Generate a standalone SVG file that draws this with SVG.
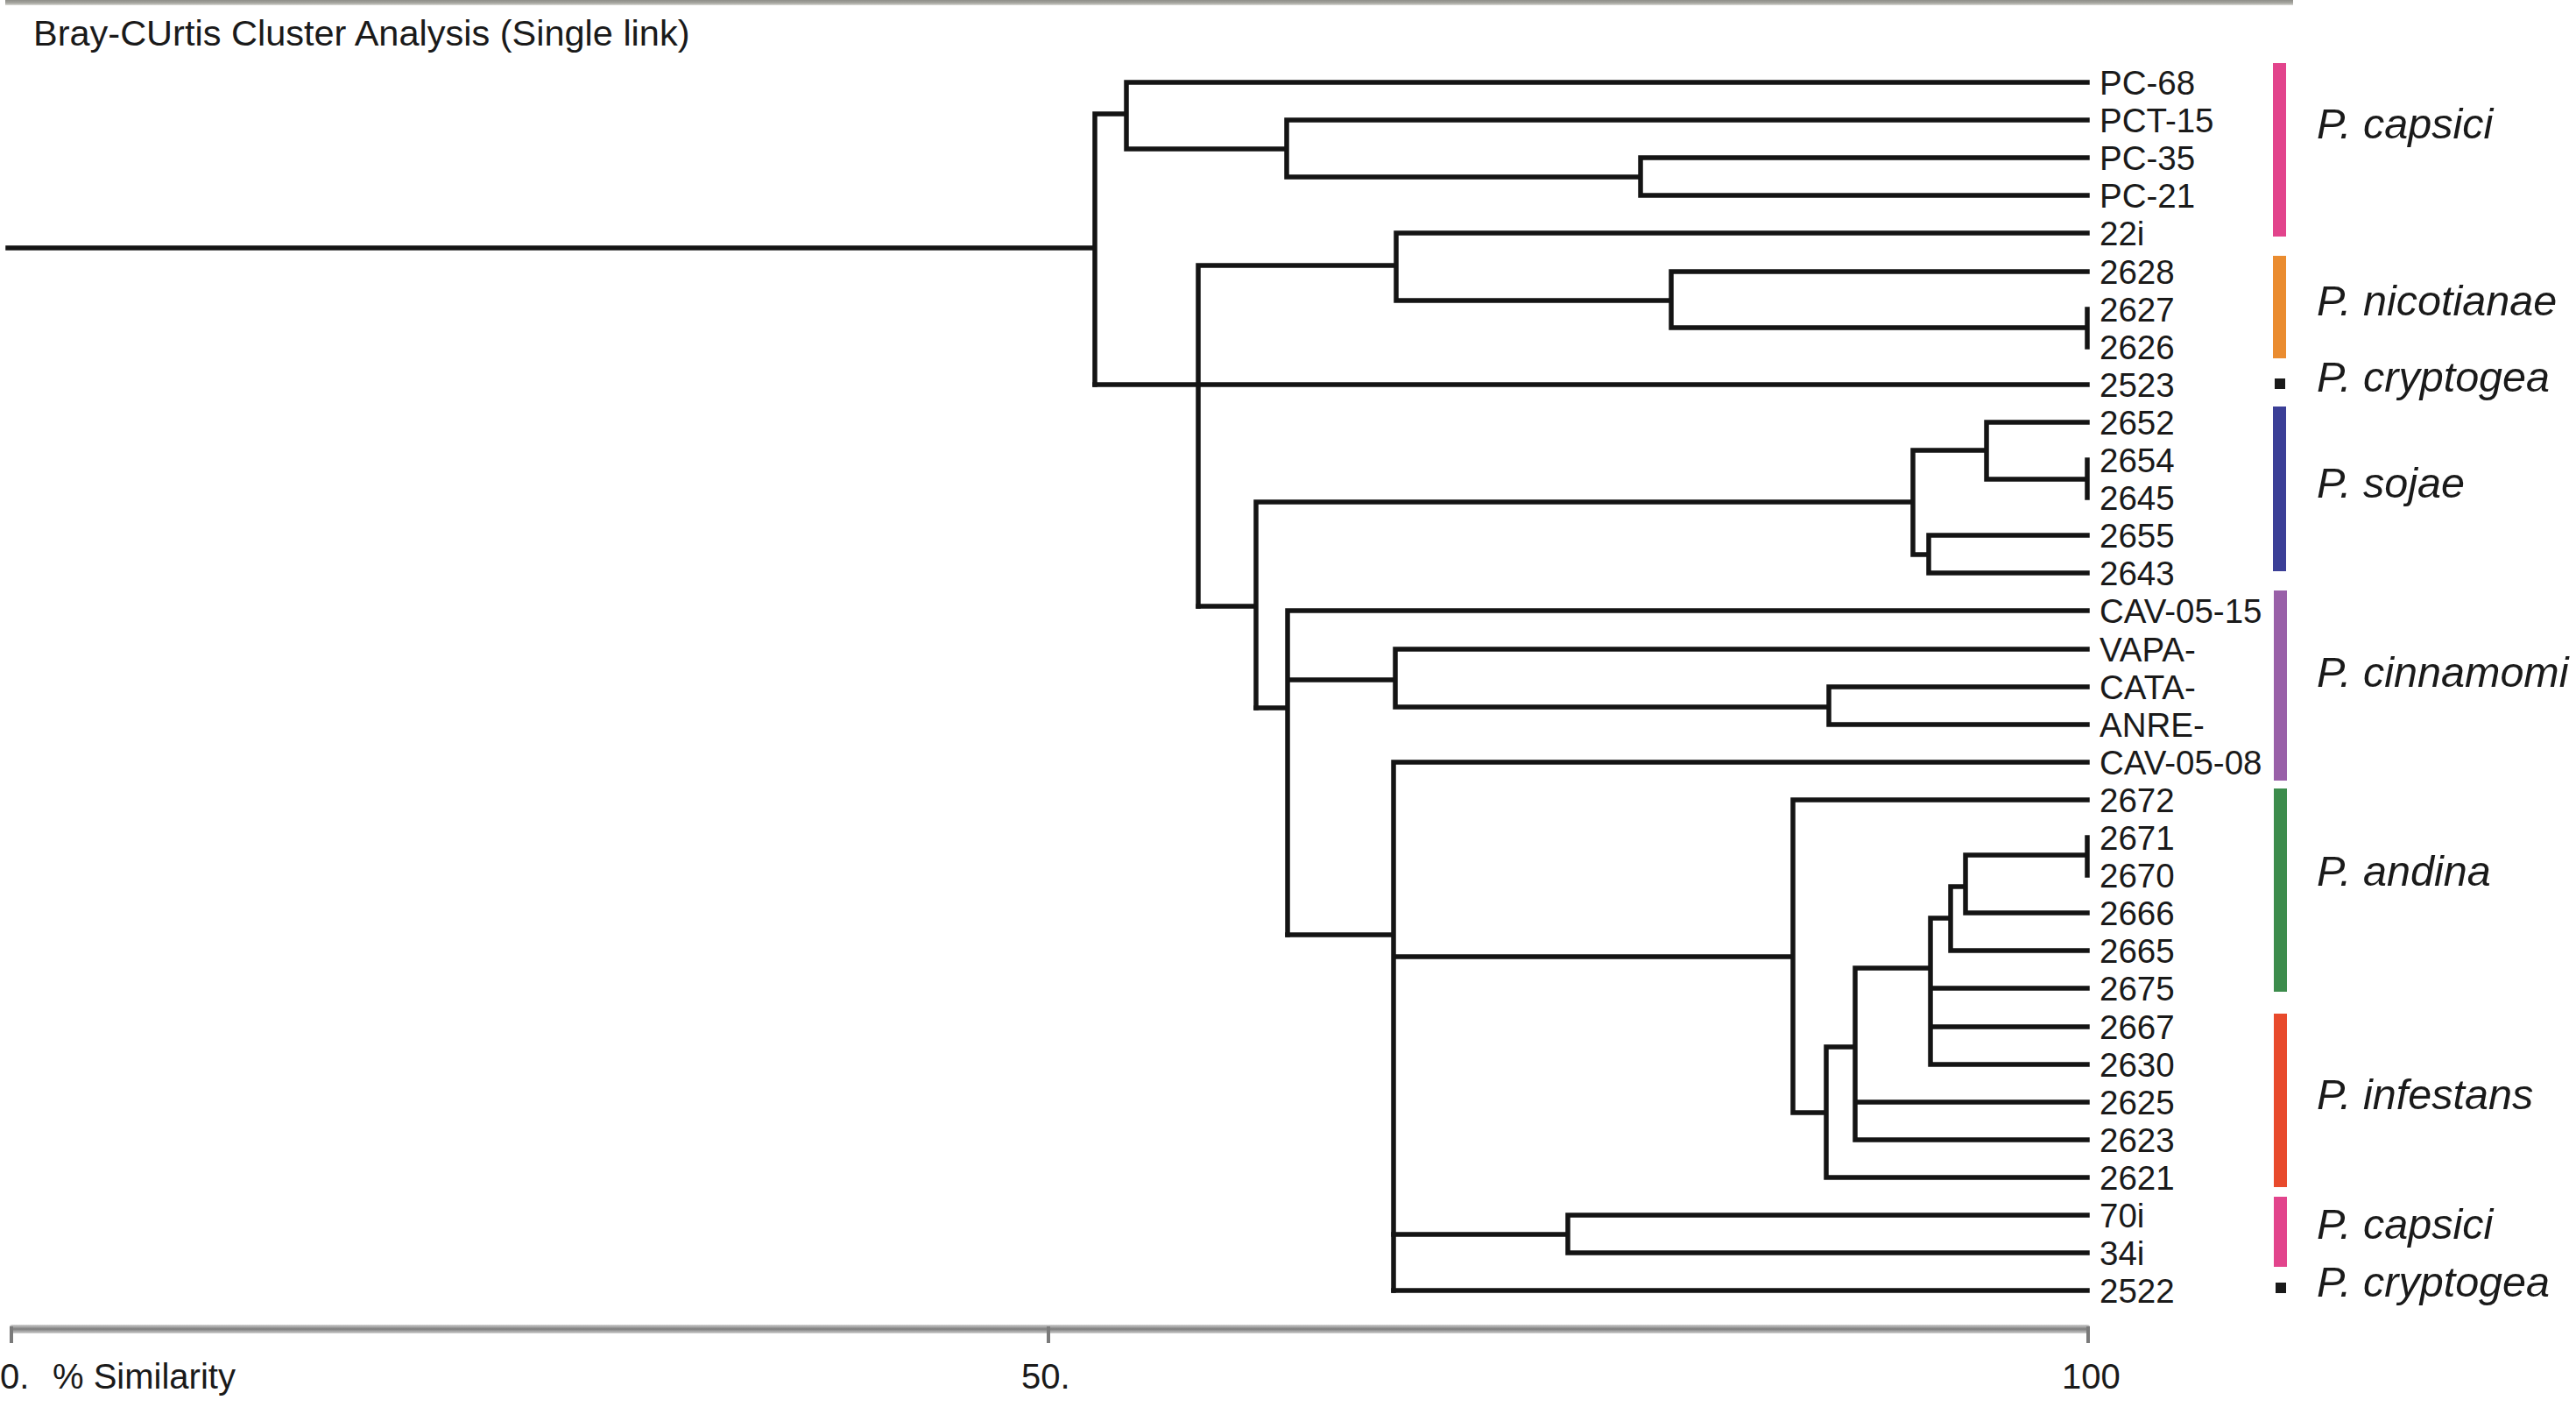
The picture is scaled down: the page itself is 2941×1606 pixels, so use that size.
<svg xmlns="http://www.w3.org/2000/svg" width="2941" height="1606" viewBox="0 0 2941 1606">
<defs>
<linearGradient id="gTop" x1="0" y1="0" x2="0" y2="1"><stop offset="0" stop-color="#8e8e88"/><stop offset="0.6" stop-color="#a9a9a3"/><stop offset="1" stop-color="#dcdcd8"/></linearGradient>
<linearGradient id="gAxis" x1="0" y1="0" x2="0" y2="1"><stop offset="0" stop-color="#d0d0d0"/><stop offset="0.5" stop-color="#7c7c7c"/><stop offset="1" stop-color="#d0d0d0"/></linearGradient>
<style>
.t{font-family:"Liberation Sans",Arial,sans-serif;fill:#1a1a1a}
.leaf{font-size:38.5px}
.sp{font-size:48.5px;font-style:italic}
.ax{font-size:40px}
.br{fill:none;stroke:#141414;stroke-width:5.5;stroke-linecap:square}
.tick{stroke:#7a7a7a;stroke-width:4}
</style>
</defs>
<rect x="0" y="0" width="2941" height="1606" fill="#ffffff"/>
<rect x="6" y="0" width="2612" height="6" fill="url(#gTop)"/>
<text class="t" x="38" y="52" font-size="41.5">Bray-CUrtis Cluster Analysis (Single link)</text>

<g id="connectors" class="br">
<path d="M9 283H1250M1250 130V439M1250 130H1286M1286 94V170M1286 94H2383M1286 170H1469M1469 137V202M1469 137H2383M1469 202H1873M1873 180V223M1873 180H2383M1873 223H2383"/>
<path d="M1250 439H2383"/>
<path d="M1368 303V692M1368 303H1594M1594 266V343M1594 266H2383M1594 343H1908M1908 310V374M1908 310H2383M1908 374H2383M2383 353V396"/>
<path d="M1368 692H1434M1434 573V808M1434 573H2184M2184 514V633M2184 514H2268M2268 482V547M2268 482H2383M2268 547H2383M2383 525V568M2184 633H2202M2202 611V654M2202 611H2383M2202 654H2383"/>
<path d="M1434 808H1470M1470 697V1067M1470 697H2383M1470 776H1593M1593 741V807M1593 741H2383M1593 807H2088M2088 784V827M2088 784H2383M2088 827H2383"/>
<path d="M1470 1067H1591M1591 870V1473M1591 870H2383M1591 1092H2047M2047 913V1270M2047 913H2383M2047 1270H2085M2085 1195V1344M2085 1344H2383M2085 1195H2118M2118 1105V1301M2118 1258H2383M2118 1301H2383M2118 1105H2204M2204 1048V1215M2204 1128H2383M2204 1172H2383M2204 1215H2383M2204 1048H2227M2227 1012V1085M2227 1085H2383M2227 1012H2244M2244 976V1042M2244 1042H2383M2244 976H2383M2383 956V999"/>
<path d="M1591 1409H1790M1790 1387V1430M1790 1387H2383M1790 1430H2383M1591 1473H2383"/>
</g>

<g id="leaves" class="t leaf">
<g id="leaf-PC-68"><text x="2397" y="108">PC-68</text></g>
<g id="leaf-PCT-15"><text x="2397" y="151">PCT-15</text></g>
<g id="leaf-PC-35"><text x="2397" y="194">PC-35</text></g>
<g id="leaf-PC-21"><text x="2397" y="237">PC-21</text></g>
<g id="leaf-22i"><text x="2397" y="280">22i</text></g>
<g id="leaf-2628"><text x="2397" y="324">2628</text></g>
<g id="leaf-2627"><text x="2397" y="367">2627</text></g>
<g id="leaf-2626"><text x="2397" y="410">2626</text></g>
<g id="leaf-2523"><text x="2397" y="453">2523</text></g>
<g id="leaf-2652"><text x="2397" y="496">2652</text></g>
<g id="leaf-2654"><text x="2397" y="539">2654</text></g>
<g id="leaf-2645"><text x="2397" y="582">2645</text></g>
<g id="leaf-2655"><text x="2397" y="625">2655</text></g>
<g id="leaf-2643"><text x="2397" y="668">2643</text></g>
<g id="leaf-CAV-05-15"><text x="2397" y="711">CAV-05-15</text></g>
<g id="leaf-VAPA"><text x="2397" y="755">VAPA-</text></g>
<g id="leaf-CATA"><text x="2397" y="798">CATA-</text></g>
<g id="leaf-ANRE"><text x="2397" y="841">ANRE-</text></g>
<g id="leaf-CAV-05-08"><text x="2397" y="884">CAV-05-08</text></g>
<g id="leaf-2672"><text x="2397" y="927">2672</text></g>
<g id="leaf-2671"><text x="2397" y="970">2671</text></g>
<g id="leaf-2670"><text x="2397" y="1013">2670</text></g>
<g id="leaf-2666"><text x="2397" y="1056">2666</text></g>
<g id="leaf-2665"><text x="2397" y="1099">2665</text></g>
<g id="leaf-2675"><text x="2397" y="1142">2675</text></g>
<g id="leaf-2667"><text x="2397" y="1186">2667</text></g>
<g id="leaf-2630"><text x="2397" y="1229">2630</text></g>
<g id="leaf-2625"><text x="2397" y="1272">2625</text></g>
<g id="leaf-2623"><text x="2397" y="1315">2623</text></g>
<g id="leaf-2621"><text x="2397" y="1358">2621</text></g>
<g id="leaf-70i"><text x="2397" y="1401">70i</text></g>
<g id="leaf-34i"><text x="2397" y="1444">34i</text></g>
<g id="leaf-2522"><text x="2397" y="1487">2522</text></g>
</g>

<g id="species">
<g id="sp-capsici-1"><rect x="2595" y="72" width="15" height="198" fill="#e2448c"/><text class="t sp" x="2645" y="158">P. capsici</text></g>
<g id="sp-nicotianae"><rect x="2595" y="292" width="15" height="117" fill="#ea8c30"/><text class="t sp" x="2645" y="360">P. nicotianae</text></g>
<g id="sp-cryptogea-1"><rect x="2597" y="432" width="12" height="12" fill="#1a1a1a"/><text class="t sp" x="2645" y="447">P. cryptogea</text></g>
<g id="sp-sojae"><rect x="2595" y="464" width="15" height="188" fill="#3b3f97"/><text class="t sp" x="2645" y="568">P. sojae</text></g>
<g id="sp-cinnamomi"><rect x="2596" y="674" width="15" height="217" fill="#9960a8"/><text class="t sp" x="2645" y="784">P. cinnamomi</text></g>
<g id="sp-andina"><rect x="2596" y="900" width="15" height="232" fill="#3c8c4c"/><text class="t sp" x="2645" y="1011">P. andina</text></g>
<g id="sp-infestans"><rect x="2596" y="1157" width="15" height="198" fill="#e84a2c"/><text class="t sp" x="2645" y="1266">P. infestans</text></g>
<g id="sp-capsici-2"><rect x="2596" y="1366" width="15" height="80" fill="#e2448c"/><text class="t sp" x="2645" y="1414">P. capsici</text></g>
<g id="sp-cryptogea-2"><rect x="2598" y="1464" width="12" height="12" fill="#1a1a1a"/><text class="t sp" x="2645" y="1480">P. cryptogea</text></g>
</g>

<g id="axis">
<rect x="11" y="1512" width="2375" height="10" rx="3" fill="url(#gAxis)"/>
<line class="tick" x1="13" y1="1514" x2="13" y2="1533"/>
<line class="tick" x1="1197" y1="1514" x2="1197" y2="1533"/>
<line class="tick" x1="2384" y1="1514" x2="2384" y2="1533"/>
<text class="t ax" x="0" y="1585">0.</text>
<text class="t ax" x="60" y="1585">% Similarity</text>
<text class="t ax" x="1166" y="1585">50.</text>
<text class="t ax" x="2354" y="1585">100</text>
</g>
</svg>
